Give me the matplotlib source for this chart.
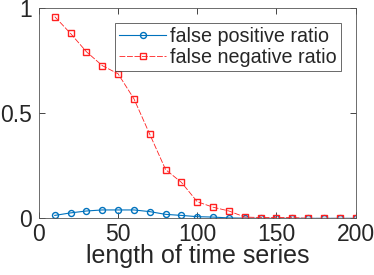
import matplotlib
matplotlib.use("Agg")
import matplotlib.pyplot as plt

lengths = [10, 20, 30, 40, 50, 60, 70, 80, 90, 100, 110, 120, 130, 140, 150, 160, 170, 180, 190, 200]
false_pos = [0.014, 0.026, 0.035, 0.040, 0.040, 0.040, 0.032, 0.019, 0.014, 0.008,
             0.006, 0.002, 0.001, 0.0, 0.0, 0.0, 0.0, 0.0, 0.0, 0.0]
false_neg = [0.960, 0.880, 0.793, 0.727, 0.688, 0.569, 0.400, 0.232, 0.171, 0.079,
             0.053, 0.035, 0.006, 0.004, 0.004, 0.004, 0.0, 0.0, 0.0, 0.0]

plt.rcParams["font.family"] = ["Liberation Sans", "DejaVu Sans"]
text_col = "#262626"

fig = plt.figure(figsize=(3.74, 2.75), dpi=100)
ax = fig.add_axes([0.104, 0.206, 0.847, 0.764])

ax.plot(lengths, false_pos, "-o", color="#0072BD", lw=0.8, ms=4.3,
        mfc="none", mew=1.0, label="false positive ratio")
ax.plot(lengths, false_neg, "--s", color="#ff2020", lw=0.6, ms=4.0,
        mfc="none", mew=1.0, dashes=(7, 2), label="false negative ratio")

ax.set_xlim(0, 200)
ax.set_ylim(0, 1)
ax.set_xticks([0, 50, 100, 150, 200])
ax.set_yticks([0, 0.5, 1])
ax.set_yticklabels(["0", "0.5", "1"])
ax.tick_params(direction="in", length=4, width=0.6, colors=text_col,
               labelsize=16.5, top=True, right=True)
ax.tick_params(axis="y", pad=5)
ax.tick_params(axis="x", pad=3)
for s in ax.spines.values():
    s.set_color("#555555")
    s.set_linewidth(0.6)
ax.set_xlabel("length of time series", fontsize=18, color=text_col, labelpad=-1)

leg = ax.legend(loc="upper right", fontsize=14.2, frameon=True, fancybox=False,
                edgecolor=text_col, handlelength=2.4, handletextpad=0.2,
                borderpad=0.2, labelspacing=0.1, borderaxespad=0.75)
leg.get_frame().set_linewidth(0.6)
for t in leg.get_texts():
    t.set_color(text_col)

fig.savefig("out.png", dpi=100)
